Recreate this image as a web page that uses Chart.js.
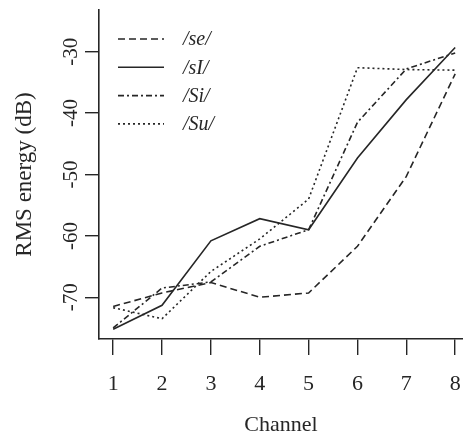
<!DOCTYPE html>
<html>
<head>
<meta charset="utf-8">
<script src="https://cdn.jsdelivr.net/npm/chart.js@4"></script>
<style>
  html, body { margin: 0; padding: 0; background: #fff; }
  #wrap { width: 463px; height: 437px; }
</style>
</head>
<body>
<div id="wrap"><canvas id="rmsChart" width="463" height="437"></canvas></div>
<script>
// values
const channels = [1, 2, 3, 4, 5, 6, 7, 8];
const seValues = [-71.5, -69.3, -67.6, -70.0, -69.3, -61.7, -50.3, -33.6];
const sIValues = [-75.2, -71.3, -60.8, -57.2, -59.0, -47.3, -37.8, -29.3];
const SiValues = [-75.0, -68.5, -67.5, -61.7, -59.0, -41.5, -32.8, -30.2];
const SuValues = [-71.7, -73.5, -65.8, -60.5, -54.0, -32.6, -32.9, -33.0];
const seriesNames = ["/se/", "/sI/", "/Si/", "/Su/"];
const yTicks = [-70, -60, -50, -40, -30];

const ink = "#262626";
const serif = "'Liberation Serif', 'Times New Roman', Times, serif";

function toPoints(values) {
    return channels.map((c, i) => ({ x: c, y: values[i] }));
}

// rotated y tick labels, R style (reading bottom to top)
const rotatedYLabels = {
    id: 'rotatedYLabels',
    afterDraw(chart) {
        const { ctx } = chart;
        const yScale = chart.scales.y;
        ctx.save();
        ctx.font = "21px " + serif;
        ctx.fillStyle = ink;
        ctx.textAlign = "center";
        ctx.textBaseline = "middle";
        yTicks.forEach(v => {
            ctx.save();
            ctx.translate(71, yScale.getPixelForValue(v));
            ctx.rotate(-Math.PI / 2);
            ctx.fillText(String(v), 0, 0);
            ctx.restore();
        });
        ctx.restore();
    }
}

// legend in the top left corner of the plot
const lineLegend = {
    id: 'lineLegend',
    afterDraw(chart) {
        const { ctx } = chart;
        ctx.save();
        chart.data.datasets.forEach((ds, i) => {
            const y = 39 + i * 28.3;
            ctx.strokeStyle = ds.borderColor;
            ctx.lineWidth = ds.borderWidth;
            ctx.setLineDash(ds.borderDash || []);
            ctx.beginPath();
            ctx.moveTo(118, y);
            ctx.lineTo(164, y);
            ctx.stroke();
            ctx.setLineDash([]);
            ctx.font = "italic 20px " + serif;
            ctx.fillStyle = ink;
            ctx.textAlign = "left";
            ctx.textBaseline = "middle";
            ctx.fillText(ds.label, 183, y + 1);
        });
        ctx.restore();
    }
}

const lineStyle = {
    borderColor: ink,
    borderWidth: 1.6,
    pointRadius: 0,
    tension: 0,
    fill: false
};

const rmsData = {
    datasets: [
        { ...lineStyle, label: seriesNames[0], data: toPoints(seValues), borderDash: [7, 4] },
        { ...lineStyle, label: seriesNames[1], data: toPoints(sIValues), borderDash: [] },
        { ...lineStyle, label: seriesNames[2], data: toPoints(SiValues), borderDash: [6, 3, 2, 3] },
        { ...lineStyle, label: seriesNames[3], data: toPoints(SuValues), borderDash: [2, 3] }
    ]
};

const rmsConfig = {
    type: 'line',
    data: rmsData,
    options: {
        responsive: false,
        animation: false,
        events: [],
        layout: { padding: { top: 10, right: 0, left: 0, bottom: 0 } },
        plugins: {
            legend: { display: false },
            tooltip: { enabled: false }
        },
        scales: {
            x: {
                type: 'linear',
                min: 0.71,
                max: 8.16,
                afterBuildTicks(scale) {
                    scale.ticks = channels.map(c => ({ value: c }));
                },
                afterFit(scale) {
                    scale.height = 98;
                    scale.paddingLeft = 0;
                    scale.paddingRight = 0;
                },
                border: { display: true, color: ink, width: 1.6 },
                grid: { display: true, drawOnChartArea: false, drawTicks: true, tickLength: 16, color: ink, lineWidth: 1.4 },
                ticks: {
                    color: ink,
                    font: { family: serif, size: 22 },
                    padding: 16,
                    maxRotation: 0,
                    autoSkip: false
                },
                title: {
                    display: true,
                    text: 'Channel',
                    color: ink,
                    font: { family: serif, size: 22, lineHeight: 1 },
                    padding: { top: 0, bottom: 1 }
                }
            },
            y: {
                type: 'linear',
                min: -76.8,
                max: -23.2,
                afterBuildTicks(scale) {
                    scale.ticks = yTicks.map(v => ({ value: v }));
                },
                afterFit(scale) {
                    scale.width = 99;
                    scale.paddingTop = 0;
                    scale.paddingBottom = 0;
                },
                border: { display: true, color: ink, width: 1.6 },
                grid: { display: true, drawOnChartArea: false, drawTicks: true, tickLength: 14, color: ink, lineWidth: 1.4 },
                ticks: { color: 'rgba(0,0,0,0)', font: { family: serif, size: 21 } },
                title: {
                    display: true,
                    text: 'RMS energy (dB)',
                    color: ink,
                    font: { family: serif, size: 23, lineHeight: 1.2 },
                    padding: { top: 11, bottom: 0 }
                }
            }
        }
    },
    plugins: [rotatedYLabels, lineLegend]
};

let rmsChart = new Chart(document.getElementById("rmsChart"), rmsConfig);
</script>
</body>
</html>
